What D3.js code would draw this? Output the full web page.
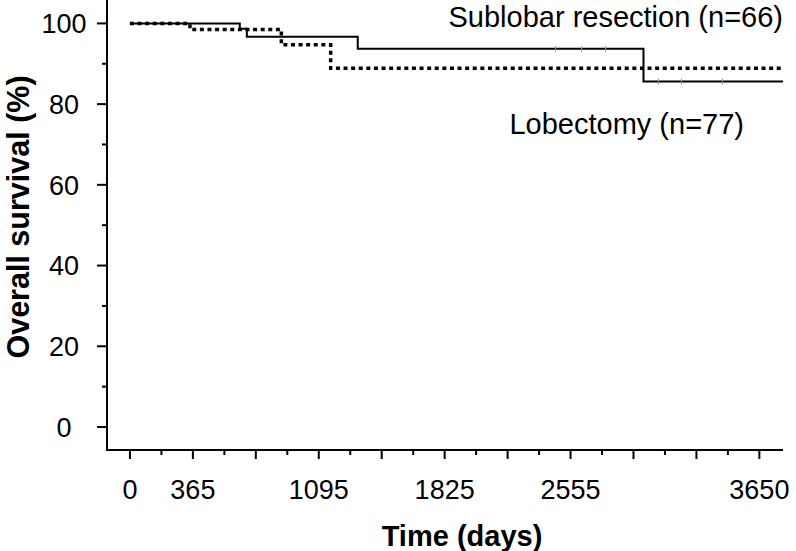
<!DOCTYPE html>
<html>
<head>
<meta charset="utf-8">
<script src="https://cdn.jsdelivr.net/npm/d3@7"></script>
<style>
  html, body { margin: 0; padding: 0; background: #fff; }
  svg { display: block; font-family: "Liberation Sans", Arial, sans-serif; }
</style>
</head>
<body>
<svg id="chart" width="796" height="551"></svg>
<script>
// ---- data ----
const xMajorTicks = [0, 365, 730, 1095, 1460, 1825, 2190, 2555, 2920, 3285, 3650];
const xMinorTicks = [182.5, 547.5, 912.5, 1277.5, 1642.5, 2007.5, 2372.5, 2737.5, 3102.5, 3467.5];
const xTickLabels = [0, 365, 1095, 1825, 2555, 3650];
const yMajorTicks = [0, 20, 40, 60, 80, 100];
const yMinorTicks = [10, 30, 50, 70, 90];

// solid curve: [day, survival %]
const solidDays     = [0, 637, 678, 1321, 2978, 3787];
const solidSurvival = [100, 98.7, 96.7, 93.7, 85.6, 85.6];
// dotted curve
const dottedDays     = [0, 348, 878, 1164, 3787];
const dottedSurvival = [100, 98.5, 94.7, 88.9, 88.9];
// censor marks on solid curve
const solidCensorDays = [2468, 2619, 2758, 3065, 3198, 3436];

const labelSub = "Sublobar resection (n=66)";
const labelLob = "Lobectomy (n=77)";
const xTitle = "Time (days)";
const yTitle = "Overall survival (%)";

// ---- chart ----
const svg = d3.select("#chart");
const x = d3.scaleLinear().domain([-133, 3787]).range([107, 783]);
const y = d3.scaleLinear().domain([-5.7, 105.8]).range([450, 0]);

const toPts = (ds, vs) => ds.map((d, i) => [d, vs[i]]);
const line = d3.line().x(d => x(d[0])).y(d => y(d[1])).curve(d3.curveStepAfter);

// x axis
const gx = svg.append("g").attr("transform", "translate(0,450)");
gx.append("line").attr("x1", 107).attr("x2", 783).attr("y1", 0).attr("y2", 0)
  .attr("stroke", "#000").attr("stroke-width", 2);
gx.selectAll("line.maj").data(xMajorTicks).join("line").attr("class", "maj")
  .attr("x1", d => x(d)).attr("x2", d => x(d)).attr("y1", 0).attr("y2", 9)
  .attr("stroke", "#000").attr("stroke-width", 2);
gx.selectAll("line.min").data(xMinorTicks).join("line").attr("class", "min")
  .attr("x1", d => x(d)).attr("x2", d => x(d)).attr("y1", 0).attr("y2", 5)
  .attr("stroke", "#000").attr("stroke-width", 2);
gx.selectAll("text").data(xTickLabels).join("text")
  .attr("x", d => x(d)).attr("y", 49).attr("text-anchor", "middle")
  .attr("font-size", 27).attr("fill", "#000").text(d => d);

// y axis
const gy = svg.append("g");
gy.append("line").attr("x1", 107).attr("x2", 107).attr("y1", 0).attr("y2", 451)
  .attr("stroke", "#000").attr("stroke-width", 2);
gy.selectAll("line.maj").data(yMajorTicks).join("line").attr("class", "maj")
  .attr("x1", 97).attr("x2", 107).attr("y1", d => y(d)).attr("y2", d => y(d))
  .attr("stroke", "#000").attr("stroke-width", 2);
gy.selectAll("line.min").data(yMinorTicks).join("line").attr("class", "min")
  .attr("x1", 102).attr("x2", 107).attr("y1", d => y(d)).attr("y2", d => y(d))
  .attr("stroke", "#000").attr("stroke-width", 2);
gy.selectAll("text").data(yMajorTicks).join("text")
  .attr("x", 64).attr("y", d => y(d) + 9.8).attr("text-anchor", "middle")
  .attr("font-size", 27).attr("fill", "#000").text(d => d);

// curves
svg.append("path").datum(toPts(dottedDays, dottedSurvival)).attr("d", line)
  .attr("fill", "none").attr("stroke", "#000").attr("stroke-width", 3.5)
  .attr("stroke-dasharray", "4,3.6");
svg.append("path").datum(toPts(solidDays, solidSurvival)).attr("d", line)
  .attr("fill", "none").attr("stroke", "#000").attr("stroke-width", 2);

// censor marks
const solidAt = d => { let v = solidSurvival[0]; solidDays.forEach((t, i) => { if (t <= d) v = solidSurvival[i]; }); return v; };
svg.selectAll("line.cens").data(solidCensorDays).join("line").attr("class", "cens")
  .attr("x1", d => x(d)).attr("x2", d => x(d))
  .attr("y1", d => y(solidAt(d)) - 3).attr("y2", d => y(solidAt(d)) + 3)
  .attr("stroke", "#999").attr("stroke-width", 1);

// labels
svg.append("text").attr("x", 783).attr("y", 27).attr("text-anchor", "end")
  .attr("font-size", 29).attr("fill", "#000").text(labelSub);
svg.append("text").attr("x", 744).attr("y", 134).attr("text-anchor", "end")
  .attr("font-size", 29).attr("fill", "#000").text(labelLob);

// titles
svg.append("text").attr("x", 462).attr("y", 546).attr("text-anchor", "middle")
  .attr("font-size", 29).attr("font-weight", "bold").attr("fill", "#000").text(xTitle);
svg.append("text").attr("transform", "translate(29,217) rotate(-90)")
  .attr("text-anchor", "middle").attr("font-size", 30.5).attr("font-weight", "bold")
  .attr("fill", "#000").text(yTitle);
</script>
</body>
</html>
